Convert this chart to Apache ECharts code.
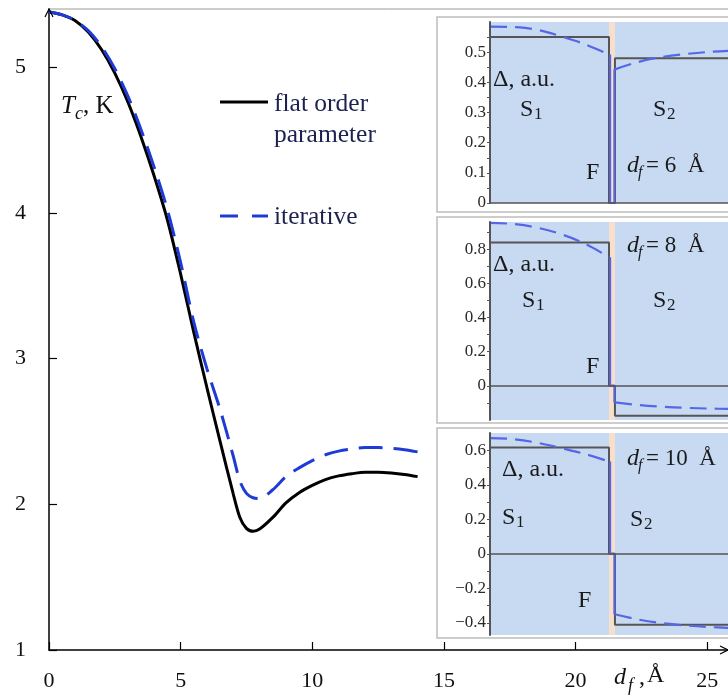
<!DOCTYPE html>
<html>
<head>
<meta charset="utf-8">
<script src="https://cdn.jsdelivr.net/npm/echarts@6/dist/echarts.min.js"></script>
<style>
html,body{margin:0;padding:0;background:#fff;}
#main{width:728px;height:698px;}
</style>
</head>
<body>
<div id="main"></div>
<script>
// main plot: Tc vs df
var dfFlat = [0,0.5,1,1.5,2,2.5,3,3.5,4,4.5,5,5.5,6,6.5,7,7.25,7.5,7.75,8,8.5,9,9.5,10,10.5,11,11.5,12,12.5,13,13.5,14];
var tcFlat = [5.38,5.36,5.32,5.24,5.12,4.96,4.76,4.52,4.25,3.95,3.58,3.18,2.80,2.43,2.07,1.91,1.835,1.815,1.83,1.91,2.01,2.08,2.13,2.17,2.195,2.21,2.22,2.22,2.215,2.205,2.19];
var dfIter = [0,0.5,1,1.5,2,2.5,3,3.5,4,4.5,5,5.5,6,6.5,7,7.25,7.5,7.75,8,8.5,9,9.5,10,10.5,11,11.5,12,12.5,13,13.5,14];
var tcIter = [5.38,5.36,5.32,5.25,5.14,4.99,4.80,4.57,4.31,4.02,3.66,3.25,2.93,2.65,2.33,2.16,2.075,2.045,2.04,2.10,2.19,2.25,2.30,2.34,2.365,2.38,2.39,2.39,2.385,2.375,2.36];

var xTicks = [0,5,10,15,20,25];
var yTicks = [1,2,3,4,5];

// insets: order parameter profiles (S1 | F | S2)
var posS1 = [0,4,8,12,16,20];
var posS2 = [21,25,29,33,37,41];
var fStart = 20, fEnd = 21, posEnd = 40;

var flatS1 = [0.55, 0.84, 0.616];
var flatS2 = [0.48, -0.175, -0.41];
var iterS1 = [
  [0.585,0.583,0.574,0.552,0.526,0.492],
  [0.955,0.948,0.926,0.888,0.832,0.754],
  [0.670,0.664,0.643,0.612,0.578,0.535]
];
var iterS2 = [
  [0.443,0.468,0.484,0.494,0.501,0.505],
  [-0.097,-0.112,-0.122,-0.129,-0.133,-0.136],
  [-0.350,-0.381,-0.402,-0.415,-0.424,-0.430]
];
var insetMin = [0, -0.2, -0.47];
var insetMax = [0.6, 0.96, 0.70];
var insetLabels = [
  [0,0.1,0.2,0.3,0.4,0.5],
  [0,0.2,0.4,0.6,0.8],
  [-0.4,-0.2,0,0.2,0.4,0.6]
];
var insetTicks = [
  [0,0.05,0.1,0.15,0.2,0.25,0.3,0.35,0.4,0.45,0.5,0.55],
  [-0.1,0,0.1,0.2,0.3,0.4,0.5,0.6,0.7,0.8,0.9],
  [-0.4,-0.3,-0.2,-0.1,0,0.1,0.2,0.3,0.4,0.5,0.6]
];
var insetDf = ['6', '8', '10'];

var serif = '"Liberation Serif", "DejaVu Serif", serif';
var blueMain = '#1f3bd6';
var blueInset = '#5566e6';
var fillBlue = '#c8daf2';
var fillPeach = '#f7dfcc';

function zip(xs, ys) {
  var out = [];
  for (var i = 0; i < xs.length; i++) out.push([xs[i], ys[i]]);
  return out;
}

function txt(s, x, y, size, italic, color, align) {
  return {
    type: 'text', x: x, y: y, z: 20,
    style: {
      text: s,
      font: (italic ? 'italic ' : '') + size + 'px ' + serif,
      fill: color || '#111',
      align: align || 'left',
      verticalAlign: 'middle'
    }
  };
}

var insetGrids = [
  {left: 490, top: 22, width: 240, height: 181},
  {left: 490, top: 222, width: 240, height: 198},
  {left: 490, top: 433, width: 240, height: 202}
];
var frames = [[17, 195], [217, 206], [428, 210]];

var grids = [{left: 49, top: 9, width: 679, height: 641}].concat(insetGrids);

var xAxes = [{
  gridIndex: 0, type: 'value', min: 0, max: 25.79,
  axisLine: {lineStyle: {color: '#000', width: 1.5}},
  axisTick: {inside: true, length: 8, customValues: xTicks, lineStyle: {color: '#000', width: 1.2}},
  axisLabel: {customValues: xTicks, margin: 20, fontSize: 22, fontFamily: serif, color: '#111'},
  splitLine: {show: false}
}];
var yAxes = [{
  gridIndex: 0, type: 'value', min: 1, max: 5.4,
  axisLine: {show: true, lineStyle: {color: '#000', width: 1.5}},
  axisTick: {show: true, inside: true, length: 8, customValues: yTicks, lineStyle: {color: '#000', width: 1.2}},
  axisLabel: {customValues: yTicks, margin: 23, fontSize: 22, fontFamily: serif, color: '#111'},
  splitLine: {show: false}
}];

var series = [
  {
    type: 'line', xAxisIndex: 0, yAxisIndex: 0, data: zip(dfFlat, tcFlat),
    showSymbol: false, smooth: 0.3, z: 3,
    lineStyle: {color: '#000', width: 3}
  },
  {
    type: 'line', xAxisIndex: 0, yAxisIndex: 0, data: zip(dfIter, tcIter),
    showSymbol: false, smooth: 0.3, z: 4,
    lineStyle: {color: blueMain, width: 3, type: [24, 11]}
  }
];

var graphics = [
  // top frame line and axis arrows
  {type: 'line', z: 5, shape: {x1: 49, y1: 9, x2: 728, y2: 9}, style: {stroke: '#999', lineWidth: 1}},
  {type: 'polyline', z: 5, shape: {points: [[45, 17], [49, 9], [53, 17]]}, style: {stroke: '#000', lineWidth: 1.2, fill: null}},
  {type: 'polyline', z: 5, shape: {points: [[720, 646], [728, 650], [720, 654]]}, style: {stroke: '#000', lineWidth: 1.2, fill: null}},
  // legend
  {type: 'line', z: 5, shape: {x1: 220, y1: 102, x2: 268, y2: 102}, style: {stroke: '#000', lineWidth: 3}},
  {type: 'line', z: 5, shape: {x1: 220, y1: 216, x2: 268, y2: 216}, style: {stroke: blueMain, lineWidth: 3, lineDash: [18, 14]}},
  txt('flat order', 274, 104, 25.5, false, '#1d2150'),
  txt('parameter', 274, 135, 25.5, false, '#1d2150'),
  txt('iterative', 274, 217, 25.5, false, '#1d2150'),
  // axis titles
  txt('T', 61, 106, 25, true, '#111'),
  txt('c', 75, 114, 18, true, '#111'),
  txt(', K', 83, 106, 25, false, '#111'),
  txt('d', 614, 678, 24, true, '#111'),
  txt('f', 628, 686, 18, true, '#111'),
  txt(',', 639, 678, 24, false, '#111'),
  txt('Å', 647, 676, 24, false, '#111')
];

var textPos = [
  {delta: [493, 80], s1: [520, 110], s2: [653, 110], f: [586, 173], df: [627, 166]},
  {delta: [493, 265], s1: [522, 301], s2: [653, 301], f: [586, 367], df: [627, 246]},
  {delta: [502, 470], s1: [502, 518], s2: [630, 520], f: [578, 601], df: [627, 459]}
];

for (var k = 0; k < 3; k++) {
  var gi = k + 1;
  graphics.push({
    type: 'rect', z: -1,
    shape: {x: 437, y: frames[k][0], width: 300, height: frames[k][1]},
    style: {fill: '#fff', stroke: '#bdbdbd', lineWidth: 1.5}
  });
  xAxes.push({
    gridIndex: gi, type: 'value', min: 0, max: posEnd, z: 6,
    axisLine: {show: true, onZero: true, lineStyle: {color: '#555', width: 1.5}},
    axisTick: {show: false}, axisLabel: {show: false}, splitLine: {show: false}
  });
  yAxes.push({
    gridIndex: gi, type: 'value', min: insetMin[k], max: insetMax[k], z: 6,
    axisLine: {show: true, onZero: false, lineStyle: {color: '#555', width: 2}},
    axisTick: {show: true, length: 3, customValues: insetTicks[k], lineStyle: {color: '#555'}},
    axisLabel: {
      customValues: insetLabels[k], margin: 4, fontSize: 17, fontFamily: serif, color: '#2a2a2a',
      formatter: function (v) { return v < 0 ? '\u2212' + Math.abs(v) : String(v); }
    },
    splitLine: {show: false}
  });
  // region shading
  series.push({
    type: 'line', xAxisIndex: gi, yAxisIndex: gi, data: [], z: 1, silent: true,
    markArea: {
      silent: true,
      data: [
        [{xAxis: 0, itemStyle: {color: fillBlue}}, {xAxis: fStart}],
        [{xAxis: fStart, itemStyle: {color: fillPeach}}, {xAxis: fEnd}],
        [{xAxis: fEnd, itemStyle: {color: fillBlue}}, {xAxis: posEnd}]
      ]
    }
  });
  // flat order parameter (step)
  series.push({
    type: 'line', xAxisIndex: gi, yAxisIndex: gi, showSymbol: false, z: 3,
    data: [[0, flatS1[k]], [fStart, flatS1[k]], [fStart, 0], [fEnd, 0], [fEnd, flatS2[k]], [posEnd, flatS2[k]]],
    lineStyle: {color: '#555', width: 2}
  });
  // iterative profile
  series.push({
    type: 'line', xAxisIndex: gi, yAxisIndex: gi, showSymbol: false, smooth: 0.4, z: 4,
    data: zip(posS1, iterS1[k]),
    lineStyle: {color: blueInset, width: 2.2, type: [17, 8]}
  });
  series.push({
    type: 'line', xAxisIndex: gi, yAxisIndex: gi, showSymbol: false, z: 4,
    data: [[fStart + 0.2, iterS1[k][iterS1[k].length - 1]], [fStart + 0.2, 0], [fEnd - 0.1, 0], [fEnd - 0.1, iterS2[k][0]]],
    lineStyle: {color: blueInset, width: 2}
  });
  series.push({
    type: 'line', xAxisIndex: gi, yAxisIndex: gi, showSymbol: false, smooth: 0.4, z: 4,
    data: zip(posS2, iterS2[k]),
    lineStyle: {color: blueInset, width: 2.2, type: [17, 8]}
  });

  var p = textPos[k];
  graphics.push(txt('Δ, a.u.', p.delta[0], p.delta[1], 24, false, '#1a1a1a'));
  graphics.push(txt('S', p.s1[0], p.s1[1], 24, false, '#1a1a1a'));
  graphics.push(txt('1', p.s1[0] + 14, p.s1[1] + 5, 17, false, '#1a1a1a'));
  graphics.push(txt('S', p.s2[0], p.s2[1], 24, false, '#1a1a1a'));
  graphics.push(txt('2', p.s2[0] + 14, p.s2[1] + 5, 17, false, '#1a1a1a'));
  graphics.push(txt('F', p.f[0], p.f[1], 24, false, '#1a1a1a'));
  graphics.push(txt('d', p.df[0], p.df[1], 24, true, '#1a1a1a'));
  graphics.push(txt('f', p.df[0] + 11, p.df[1] + 7, 16, true, '#1a1a1a'));
  graphics.push(txt('= ' + insetDf[k] + '  Å', p.df[0] + 19, p.df[1], 23, false, '#1a1a1a'));
}

var myChart = echarts.init(document.getElementById('main'));
var option = {
  animation: false,
  backgroundColor: '#fff',
  grid: grids,
  xAxis: xAxes,
  yAxis: yAxes,
  series: series,
  graphic: {elements: graphics}
};
myChart.setOption(option, true);
</script>
</body>
</html>
